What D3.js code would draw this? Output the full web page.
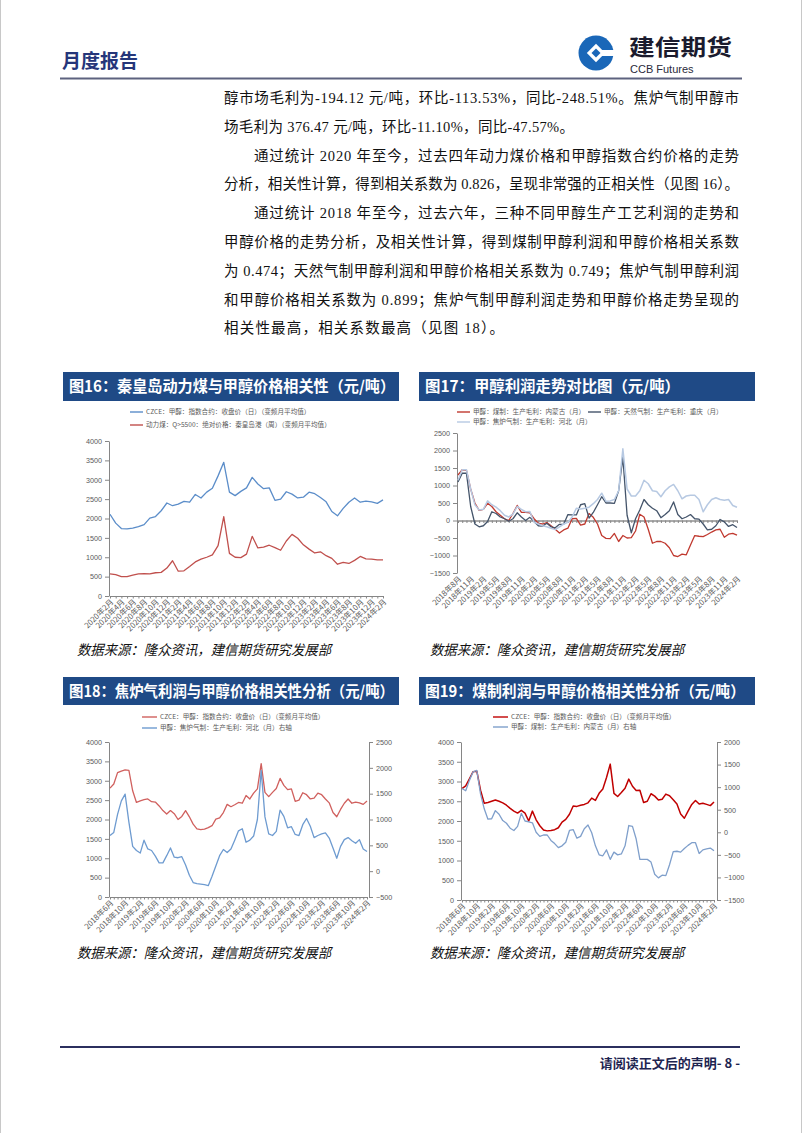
<!DOCTYPE html>
<html><head><meta charset="utf-8">
<script src="https://cdn.jsdelivr.net/npm/d3@7/dist/d3.min.js"></script>
<style>
body{margin:0;background:#fff;}
svg{display:block;font-family:"Noto Sans CJK SC","Liberation Sans",sans-serif;}
</style></head><body>
<svg id="page" width="802" height="1133"></svg>
<script>
// ---------- categories ----------
function monthList(y0, m0, y1, m1) {
  const a = []; let y = y0, m = m0;
  while (y < y1 || (y === y1 && m <= m1)) { a.push(y + "年" + m + "月"); m++; if (m > 12) { m = 1; y++; } }
  return a;
}
const months16 = monthList(2020, 2, 2024, 2);   // 49
const months17 = monthList(2018, 8, 2024, 2);   // 67
const months18 = monthList(2018, 6, 2024, 2);   // 69
const months19 = monthList(2018, 6, 2024, 2);   // 69

// ---------- tick values ----------
const yTicks16 = [0, 500, 1000, 1500, 2000, 2500, 3000, 3500, 4000];
const yTicks17 = [-1500, -1000, -500, 0, 500, 1000, 1500, 2000, 2500];
const yTicks18L = [0, 500, 1000, 1500, 2000, 2500, 3000, 3500, 4000];
const yTicks18R = [-500, 0, 500, 1000, 1500, 2000, 2500];
const yTicks19L = [0, 500, 1000, 1500, 2000, 2500, 3000, 3500, 4000];
const yTicks19R = [-1500, -1000, -500, 0, 500, 1000, 1500, 2000];

// ---------- series ----------
const methanol16 = [2110,1880,1740,1730,1750,1790,1840,2010,2050,2200,2400,2330,2370,2440,2420,2620,2530,2680,2780,3100,3450,2680,2590,2700,2790,3060,2890,2770,2790,2470,2500,2690,2630,2530,2550,2680,2640,2540,2430,2180,2070,2260,2420,2530,2420,2450,2430,2390,2480];
const coal16 = [570,550,500,500,540,570,580,570,600,610,720,910,640,650,760,880,950,1000,1060,1300,2050,1100,1000,990,1080,1540,1240,1260,1310,1250,1180,1420,1590,1490,1320,1210,1110,1140,1040,970,820,870,840,920,1020,960,950,930,930];

const coalProfit17 = [1300,1450,1430,900,500,290,320,490,400,250,150,50,0,200,430,230,230,220,50,-80,-100,-60,-150,-250,-360,-270,-220,50,60,-130,-100,200,90,-100,-430,-510,-520,-370,-600,-430,-500,-490,-300,180,100,-250,-650,-600,-600,-650,-780,-1000,-1030,-960,-980,-700,-430,-450,-460,-400,-330,-270,-250,-480,-390,-370,-420];
const gasProfit17 = [1100,1350,1350,400,-100,-180,-150,-30,250,200,100,50,-20,50,220,100,0,90,-30,-150,-160,-80,-180,-210,-110,-110,170,160,160,450,480,70,230,450,680,500,500,490,850,1800,150,-350,50,300,600,450,350,280,80,170,280,530,170,50,100,170,50,40,-100,-270,-250,-150,30,-40,-170,-120,-200];
const cokeProfit17 = [1150,1450,1450,900,450,300,320,560,450,380,280,150,100,180,400,320,250,260,-50,-100,-150,-180,-220,-260,-180,-100,-50,100,350,330,350,380,480,600,780,550,560,600,850,2050,900,700,700,850,1150,1050,850,830,680,850,960,1030,850,620,700,720,720,600,250,450,600,650,600,580,600,430,380];

const methanol18 = [2810,2915,3210,3250,3280,3270,2740,2440,2480,2510,2530,2460,2450,2350,2230,2140,2230,2150,2000,2080,2230,2070,1880,1760,1740,1750,1790,1840,2010,2040,2180,2390,2330,2380,2440,2420,2620,2530,2680,2790,3440,2700,2590,2700,2800,3060,2880,2770,2790,2470,2500,2690,2640,2530,2550,2680,2640,2530,2430,2180,2070,2260,2420,2530,2420,2450,2430,2390,2480];
const cokeProfit18 = [690,750,1100,1360,1490,950,480,400,350,600,430,400,290,160,160,300,450,270,260,280,120,-80,-220,-240,-250,-260,-280,-100,100,300,420,360,430,600,780,820,560,600,680,1000,1950,1050,720,690,770,1180,1060,840,860,710,690,900,1020,870,650,690,720,740,640,450,250,480,610,650,590,540,610,430,380];

const methanol19 = [2820,2890,3070,3250,3260,2780,2450,2470,2500,2530,2500,2460,2400,2320,2250,2200,2270,2200,2000,2250,2030,1880,1770,1750,1760,1780,1830,1970,2040,2170,2380,2370,2400,2420,2460,2580,2520,2700,2810,3100,3440,2700,2620,2720,2830,3060,2880,2770,2780,2470,2500,2690,2630,2530,2550,2680,2640,2540,2430,2180,2070,2250,2420,2520,2430,2450,2420,2390,2480];
const coalProfit19 = [970,920,1150,1340,1370,850,520,290,300,480,400,260,200,90,40,130,420,250,230,210,0,-90,-60,-60,-180,-250,-340,-300,-220,40,60,-130,-90,80,160,-10,-300,-500,-520,-390,-600,-440,-500,-480,-300,150,130,-150,-600,-600,-600,-660,-930,-1010,-950,-960,-720,-430,-420,-440,-360,-290,-230,-230,-470,-390,-370,-350,-410];

// ---------- text ----------
const bodyLines = [
  {t:"醇市场毛利为-194.12 元/吨，环比-113.53%，同比-248.51%。焦炉气制甲醇市", indent:false, full:true},
  {t:"场毛利为 376.47 元/吨，环比-11.10%，同比-47.57%。", indent:false, full:false, w:350},
  {t:"通过统计 2020 年至今，过去四年动力煤价格和甲醇指数合约价格的走势", indent:true, full:true},
  {t:"分析，相关性计算，得到相关系数为 0.826，呈现非常强的正相关性（见图 16）。", indent:false, full:true},
  {t:"通过统计 2018 年至今，过去六年，三种不同甲醇生产工艺利润的走势和", indent:true, full:true},
  {t:"甲醇价格的走势分析，及相关性计算，得到煤制甲醇利润和甲醇价格相关系数", indent:false, full:true},
  {t:"为 0.474；天然气制甲醇利润和甲醇价格相关系数为 0.749；焦炉气制甲醇利润", indent:false, full:true},
  {t:"和甲醇价格相关系数为 0.899；焦炉气制甲醇利润走势和甲醇价格走势呈现的", indent:false, full:true},
  {t:"相关性最高，相关系数最高（见图 18）。", indent:false, full:false, w:280}
];
const sourceText = "数据来源：隆众资讯，建信期货研究发展部";

const svg = d3.select("#page");

// page edges
svg.append("line").attr("x1",0.5).attr("x2",0.5).attr("y1",0).attr("y2",1133).attr("stroke","#c8c8c8");
svg.append("line").attr("x1",801.5).attr("x2",801.5).attr("y1",0).attr("y2",1133).attr("stroke","#c8c8c8");

// ---------- header ----------
svg.append("text").attr("x",62).attr("y",68).attr("font-size",19).attr("font-weight","bold")
  .attr("fill","#25367a").attr("textLength",76).text("月度报告");
// logo
const lg = svg.append("g").attr("transform","translate(596,53)");
lg.append("circle").attr("r",17.5).attr("fill","#1a67b8");
lg.append("rect").attr("x",-6.5).attr("y",-6.5).attr("width",13).attr("height",13).attr("fill","#fff").attr("transform","rotate(45)");
lg.append("rect").attr("x",4).attr("y",-3).attr("width",15).attr("height",6).attr("fill","#fff");
lg.append("rect").attr("x",-3.2).attr("y",-3.2).attr("width",6.4).attr("height",6.4).attr("fill","#1a67b8").attr("transform","rotate(45)");
svg.append("text").attr("x",629).attr("y",55).attr("font-size",22).attr("font-weight","bold")
  .attr("fill","#1b1b2e").attr("textLength",103).attr("lengthAdjust","spacingAndGlyphs").text("建信期货");
svg.append("text").attr("x",630).attr("y",73).attr("font-size",11).attr("font-family","Liberation Sans")
  .attr("fill","#2a2a3a").text("CCB Futures");
svg.append("line").attr("x1",60).attr("x2",742).attr("y1",78.5).attr("y2",78.5).attr("stroke","#5d627f").attr("stroke-width",2);

// ---------- body text ----------
const bodyX0 = 224, bodyX1 = 739, indentW = 30;
bodyLines.forEach((l, i) => {
  const x0 = bodyX0 + (l.indent ? indentW : 0);
  const t = svg.append("text").attr("x", x0).attr("y", 103 + i * 28.8)
    .attr("font-size", 14.5).attr("fill", "#111")
    .attr("font-family", "'Liberation Serif','Noto Sans CJK SC',serif")
    .attr("lengthAdjust", "spacing").text(l.t);
  t.attr("textLength", l.full ? (bodyX1 - x0) : l.w);
});

// ---------- footer ----------
svg.append("line").attr("x1",60).attr("x2",740).attr("y1",1047).attr("y2",1047).attr("stroke","#2b2f5e").attr("stroke-width",2);
svg.append("text").attr("x",740).attr("y",1068).attr("text-anchor","end").attr("font-size",13).attr("font-weight","bold")
  .attr("fill","#1e2450").text("请阅读正文后的声明- 8 -");

// ---------- chart helper ----------
const intFmt = d3.format("d");
function styleAxis(g) {
  g.attr("font-size", null).attr("font-family", null);
  g.select(".domain").attr("stroke", "#868686");
  g.selectAll(".tick line").attr("stroke", "#868686");
  g.selectAll(".tick text").attr("fill", "#595959").attr("font-size", 7.2).attr("font-family", "'Liberation Sans','Noto Sans CJK SC',sans-serif");
}

function drawChart(o) {
  const g = svg.append("g");
  const [bx, by, bw, bh] = o.box;
  g.append("rect").attr("x", bx).attr("y", by).attr("width", bw).attr("height", bh).attr("fill", "#1f4a86");
  g.append("text").attr("x", bx + 6).attr("y", by + bh / 2 + 5.8).attr("fill", "#fff")
    .attr("font-size", 15.5).attr("font-weight", "bold")
    .attr("textLength", o.titleW).attr("lengthAdjust", "spacingAndGlyphs").text(o.title);

  o.legend.forEach(l => {
    g.append("line").attr("x1", l.x).attr("x2", l.x + l.len).attr("y1", l.y).attr("y2", l.y)
      .attr("stroke", l.color).attr("stroke-width", 1.4);
    g.append("text").attr("x", l.x + l.len + 3).attr("y", l.y + 2.3).attr("font-size", 6.6)
      .attr("fill", "#595959").text(l.label);
  });

  const x = d3.scalePoint().domain(o.months).range(o.xRange);
  const yL = d3.scaleLinear().domain(o.yL.domain).range(o.yL.range);
  const yR = o.yR ? d3.scaleLinear().domain(o.yR.domain).range(o.yR.range) : null;

  g.append("g").attr("transform", `translate(${o.yL.axisX},0)`)
    .call(d3.axisLeft(yL).tickValues(o.yL.ticks).tickFormat(intFmt).tickSize(4).tickSizeOuter(0).tickPadding(3))
    .call(styleAxis);
  if (yR) {
    g.append("g").attr("transform", `translate(${o.yR.axisX},0)`)
      .call(d3.axisRight(yR).tickValues(o.yR.ticks).tickFormat(intFmt).tickSize(4).tickSizeOuter(0).tickPadding(3))
      .call(styleAxis);
  }
  const labelSet = new Set(o.months.filter((d, i) => i % o.every === 0));
  const axisY = o.zeroAxis ? yL(0) : o.yL.range[0];
  const xa = g.append("g").attr("transform", `translate(0,${axisY})`)
    .call(d3.axisBottom(x).tickValues(o.months).tickSize(2.5).tickSizeOuter(0)
      .tickFormat(d => (!o.zeroAxis && labelSet.has(d)) ? d : ""))
    .call(styleAxis);
  xa.select(".domain").attr("stroke", o.zeroAxis ? "#595959" : "#868686");
  let lab = xa;
  if (o.zeroAxis) {
    lab = g.append("g").attr("transform", `translate(0,${o.yL.range[0]})`)
      .call(d3.axisBottom(x).tickValues([...labelSet]).tickSize(0).tickFormat(d => d))
      .call(styleAxis);
    lab.select(".domain").remove();
  }
  lab.selectAll(".tick text").attr("y", 0).attr("dy", 0)
    .attr("text-anchor", "end").attr("dominant-baseline", "middle")
    .attr("transform", "translate(2,5) rotate(-45)").attr("font-size", 7.8)
    .attr("font-family", "'Noto Sans CJK SC',sans-serif");

  o.series.forEach(s => {
    const sc = s.side === "R" ? yR : yL;
    g.append("path").datum(s.values)
      .attr("fill", "none").attr("stroke", s.color).attr("stroke-width", s.width)
      .attr("stroke-linejoin", "round")
      .attr("d", d3.line().x((d, i) => x(o.months[i])).y(d => sc(d)));
  });

  g.append("text").attr("x", o.source[0]).attr("y", o.source[1]).attr("font-size", 14)
    .attr("font-style", "italic").attr("fill", "#111").attr("textLength", 254)
    .attr("lengthAdjust", "spacingAndGlyphs").text(sourceText);
}

// ---------- Fig 16 ----------
drawChart({
  box: [63, 372, 336, 29], title: "图16：秦皇岛动力煤与甲醇价格相关性（元/吨）", titleW: 326,
  legend: [
    {x: 130, y: 412, len: 13, color: "#5b8dc9", label: "CZCE：甲醇：指数合约：收盘价（日）（变频月平均值）"},
    {x: 130, y: 425, len: 13, color: "#c0504d", label: "动力煤：Q>5500：绝对价格：秦皇岛港（周）（变频月平均值）"}
  ],
  months: months16, every: 2, xRange: [110, 383],
  yL: {domain: [0, 4000], range: [596, 441], ticks: yTicks16, axisX: 109},
  series: [
    {values: methanol16, color: "#5b8dc9", width: 1.3},
    {values: coal16, color: "#c0504d", width: 1.3}
  ],
  source: [77, 655]
});

// ---------- Fig 17 ----------
drawChart({
  box: [419, 372, 336, 29], title: "图17：甲醇利润走势对比图（元/吨）", titleW: 255,
  legend: [
    {x: 457, y: 412, len: 13, color: "#c0392f", label: "甲醇：煤制：生产毛利：内蒙古（月）"},
    {x: 588, y: 412, len: 13, color: "#44546a", label: "甲醇：天然气制：生产毛利：重庆（月）"},
    {x: 457, y: 422, len: 13, color: "#b7c9e2", label: "甲醇：焦炉气制：生产毛利：河北（月）"}
  ],
  months: months17, every: 3, xRange: [458, 737], zeroAxis: true,
  yL: {domain: [-1500, 2500], range: [573, 433], ticks: yTicks17, axisX: 457},
  series: [
    {values: coalProfit17, color: "#c0392f", width: 1.3},
    {values: gasProfit17, color: "#44546a", width: 1.3},
    {values: cokeProfit17, color: "#b7c9e2", width: 1.5}
  ],
  source: [430, 655]
});

// ---------- Fig 18 ----------
drawChart({
  box: [63, 677, 336, 28], title: "图18：焦炉气利润与甲醇价格相关性分析（元/吨）", titleW: 325,
  legend: [
    {x: 142, y: 717, len: 15, color: "#d0605e", label: "CZCE：甲醇：指数合约：收盘价（日）（变频月平均值）"},
    {x: 142, y: 728, len: 15, color: "#6e9bd0", label: "甲醇：焦炉气制：生产毛利：河北（月）右轴"}
  ],
  months: months18, every: 4, xRange: [110, 367],
  yL: {domain: [0, 4000], range: [897, 742], ticks: yTicks18L, axisX: 109},
  yR: {domain: [-500, 2500], range: [897, 742], ticks: yTicks18R, axisX: 369},
  series: [
    {values: methanol18, color: "#d0605e", width: 1.3},
    {values: cokeProfit18, color: "#6e9bd0", width: 1.3, side: "R"}
  ],
  source: [77, 958]
});

// ---------- Fig 19 ----------
drawChart({
  box: [419, 677, 336, 28], title: "图19：煤制利润与甲醇价格相关性分析（元/吨）", titleW: 320,
  legend: [
    {x: 493, y: 717, len: 15, color: "#c00000", label: "CZCE：甲醇：指数合约：收盘价（日）（变频月平均值）"},
    {x: 493, y: 727, len: 15, color: "#7f9fcb", label: "甲醇：煤制：生产毛利：内蒙古（月）右轴"}
  ],
  months: months19, every: 4, xRange: [462, 714],
  yL: {domain: [0, 4000], range: [900, 742], ticks: yTicks19L, axisX: 461},
  yR: {domain: [-1500, 2000], range: [900, 742], ticks: yTicks19R, axisX: 717},
  series: [
    {values: methanol19, color: "#c00000", width: 1.5},
    {values: coalProfit19, color: "#7f9fcb", width: 1.3, side: "R"}
  ],
  source: [430, 958]
});
</script>
</body></html>
